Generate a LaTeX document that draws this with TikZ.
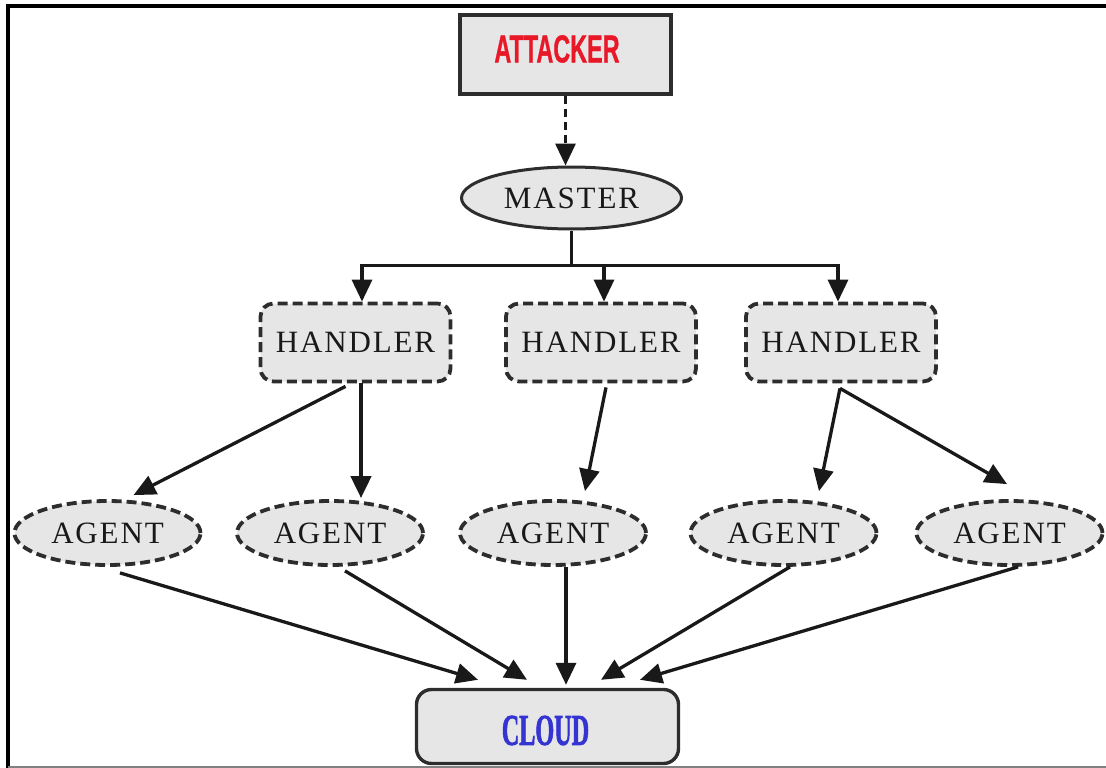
\documentclass[tikz,border=0pt]{standalone}
\usepackage{fontspec}
\usepackage{graphicx}
\usetikzlibrary{shapes.geometric,arrows.meta}
\setmainfont{Liberation Serif}
\newfontfamily\lblfont{Liberation Serif}[LetterSpace=6]
\newfontfamily\titlefont{Liberation Sans Bold}[FakeBold=1]
\newfontfamily\cloudfont{Liberation Serif Bold}[FakeBold=2]
\definecolor{boxfill}{RGB}{230,230,230}
\definecolor{edgegray}{RGB}{45,45,45}
\definecolor{attred}{RGB}{232,24,40}
\definecolor{cloudblue}{RGB}{52,52,210}

\begin{document}
\begin{tikzpicture}[x=1pt,y=-1pt,
  lbl/.style={font=\lblfont\fontsize{31}{36}\selectfont, text=black!90},
  solidbox/.style={draw=edgegray, fill=boxfill, inner sep=0pt},
  attbox/.style={solidbox, line width=4.5pt, minimum width=211pt, minimum height=79pt},
  masterell/.style={solidbox, lbl, ellipse, line width=3pt, minimum width=220pt, minimum height=62pt},
  handlerbox/.style={solidbox, lbl, rounded corners=13pt, line width=3.8pt,
    dash pattern=on 10pt off 5pt, minimum width=190pt, minimum height=78pt},
  agentell/.style={solidbox, lbl, ellipse, line width=3.8pt,
    dash pattern=on 10pt off 5pt, minimum width=186pt, minimum height=64pt},
  cloudbox/.style={solidbox, rounded corners=15pt, line width=3.4pt, minimum width=262pt, minimum height=74pt},
  tip/.style={-{Triangle[length=22pt,width=20pt]}},
  link/.style={line width=3.3pt, draw=black!90},
  arr/.style={link, tip},
  dasharr/.style={arr, dash pattern=on 8pt off 5pt}
]
\useasboundingbox (0,0) rectangle (1106,768);

% page frame
\draw[line width=4pt] (7.5,768) -- (7.5,6) -- (1106,6);
\draw[gray, line width=1.6pt] (7.5,767.2) -- (1106,767.2);

% boxes and ellipses
\node[attbox] (att) at (565.5,54.5) {};
\node[inner sep=0pt, text=attred, font=\titlefont\fontsize{39}{40}\selectfont]
  (attlbl) at (557,49) {\scalebox{0.6}[1]{ATTACKER}};
\node[masterell] (mas) at (571.5,198) {MASTER};

\node[handlerbox] (h1) at (355.5,342.5) {HANDLER};
\node[handlerbox] (h2) at (601,342.5) {HANDLER};
\node[handlerbox] (h3) at (841,342.5) {HANDLER};

\node[agentell] (a1) at (107.5,533) {AGENT};
\node[agentell] (a2) at (330,533) {AGENT};
\node[agentell] (a3) at (553,533) {AGENT};
\node[agentell] (a4) at (783.5,533) {AGENT};
\node[agentell] (a5) at (1009.5,533) {AGENT};

\node[cloudbox] (cloud) at (547.5,726.5) {};
\node[inner sep=0pt, text=cloudblue, font=\cloudfont\fontsize{44}{46}\selectfont]
  (cloudlbl) at (545.5,730.5) {\scalebox{0.55}[1]{CLOUD}};

% attacker to master
\draw[dasharr] (att.south) -- (att.south |- mas.north);

% master to handlers
\draw[link] (mas.south) -- ++(0,35) coordinate (bus);
\draw[arr] (bus) -| ([xshift=6.5pt]h1.north);
\draw[arr] (bus) -| ([xshift=3pt]h2.north);
\draw[arr] (bus) -| ([xshift=-3pt]h3.north);

% handlers to agents
\draw[arr] ([xshift=-10pt,yshift=-3pt]h1.south) -- ([xshift=26pt,yshift=4pt]a1.north);
\draw[arr, line width=4.3pt] ([xshift=5.5pt]h1.south) -- ([xshift=31pt,yshift=1pt]a2.north);
\draw[arr] ([xshift=5pt,yshift=-4pt]h2.south) -- ([xshift=32pt,yshift=8pt]a3.north);
\draw[arr] ([xshift=-1pt,yshift=-5pt]h3.south) -- ([xshift=35.5pt,yshift=8pt]a4.north);
\draw[arr] ([xshift=-1pt,yshift=-5pt]h3.south) -- ([xshift=-2.5pt,yshift=15pt]a5.north);

% agents to cloud
\draw[arr] ([xshift=12.5pt,yshift=-6pt]a1.south) -- ([xshift=-69.5pt,yshift=8pt]cloud.north);
\draw[arr] ([xshift=15pt,yshift=-4pt]a2.south) -- ([xshift=-20.5pt,yshift=8pt]cloud.north);
\draw[arr] ([xshift=13pt]a3.south) -- ([xshift=18.5pt,yshift=3pt]cloud.north);
\draw[arr] ([xshift=6.5pt]a4.south) -- ([xshift=53.5pt,yshift=8pt]cloud.north);
\draw[arr] ([xshift=8.5pt]a5.south) -- ([xshift=92.5pt,yshift=8pt]cloud.north);
\end{tikzpicture}
\end{document}
